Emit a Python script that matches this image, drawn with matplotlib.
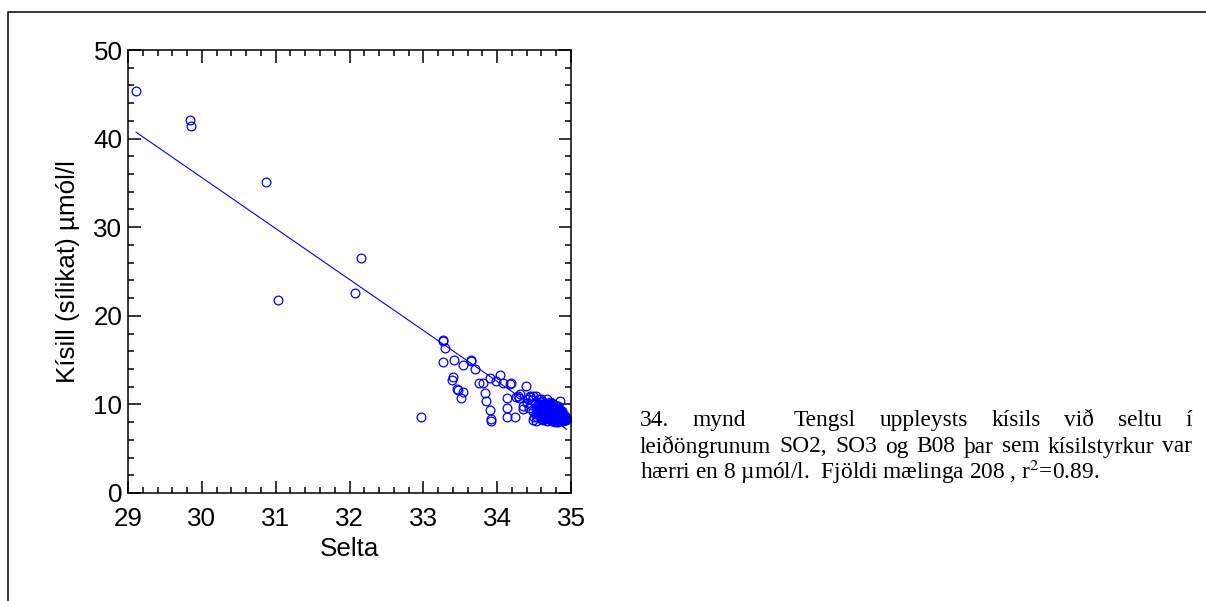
import matplotlib
matplotlib.use("Agg")
import matplotlib.pyplot as plt
from matplotlib.lines import Line2D
from matplotlib.ticker import MultipleLocator
import numpy as np

# salinity (Selta) and silicate (Kísill, µmól/l)
salinity = [
    29.11, 29.84, 29.86, 30.87, 31.03, 32.07, 32.16, 32.97,
    33.26, 33.26, 33.30, 33.27, 33.41, 33.54, 33.64, 33.65, 33.70,
    33.40, 33.39, 33.46, 33.47, 33.54, 33.51, 33.75, 33.81, 33.84,
    33.85, 33.90, 33.92, 33.92, 33.90, 34.04, 33.99, 34.08, 34.17,
    34.19, 34.13, 34.13, 34.13, 34.24, 34.26, 34.39, 34.31, 34.35,
    34.35, 34.49, 34.28, 34.30,
    34.41, 34.43, 34.44, 34.46, 34.47, 34.48, 34.49, 34.50, 34.45, 34.42,
    34.51, 34.52, 34.53, 34.54, 34.55, 34.56, 34.57, 34.58, 34.59, 34.53,
    34.55, 34.58, 34.60,
    34.61, 34.62, 34.63, 34.64, 34.65, 34.66, 34.67, 34.68, 34.69, 34.70,
    34.62, 34.64, 34.66, 34.68, 34.61, 34.65, 34.67, 34.69, 34.63, 34.70,
    34.71, 34.72, 34.73, 34.74, 34.75, 34.76, 34.77, 34.78, 34.79, 34.80,
    34.72, 34.74, 34.76, 34.78, 34.71, 34.73, 34.75, 34.77, 34.79, 34.74,
    34.76, 34.78, 34.72, 34.80,
    34.81, 34.82, 34.83, 34.84, 34.85, 34.86, 34.87, 34.88, 34.89, 34.90,
    34.82, 34.84, 34.86, 34.88, 34.91, 34.93, 34.85, 34.87, 34.83, 34.89,
    34.92, 34.81,
    34.58, 34.60, 34.62, 34.63, 34.64, 34.65, 34.66, 34.67, 34.68, 34.69,
    34.70, 34.71, 34.71, 34.72, 34.73, 34.73, 34.74, 34.75, 34.75, 34.76,
    34.77, 34.77, 34.78, 34.79, 34.79, 34.80, 34.80, 34.81, 34.82, 34.82,
    34.83, 34.83, 34.84, 34.85, 34.85, 34.86, 34.86, 34.87, 34.88, 34.89,
    34.90, 34.91, 34.92, 34.94, 34.60, 34.57, 34.59, 34.56, 34.54, 34.52,
    34.62, 34.66, 34.69, 34.72, 34.76, 34.80, 34.84, 34.88, 34.70, 34.74,
    34.78, 34.82, 34.67, 34.86, 34.90, 34.64, 34.68, 34.75, 34.81, 34.87,
    34.93,
]
silicate = [
    45.4, 42.1, 41.4, 35.1, 21.8, 22.6, 26.5, 8.6,
    17.3, 17.1, 16.4, 14.75, 15.0, 14.45, 15.0, 14.9, 13.95,
    13.05, 12.8, 11.7, 11.6, 11.4, 10.7, 12.45, 12.45, 11.3,
    10.4, 9.35, 8.3, 8.15, 12.95, 13.3, 12.6, 12.45, 12.35,
    12.4, 10.7, 9.6, 8.6, 8.55, 10.8, 12.1, 11.2, 9.8,
    9.5, 8.25, 10.9, 10.7,
    10.2, 9.6, 10.8, 9.9, 10.5, 9.2, 10.9, 8.6, 11.0, 10.6,
    10.3, 9.7, 10.9, 9.3, 10.1, 8.9, 10.6, 9.5, 8.4, 8.1,
    9.0, 10.0, 9.8,
    10.4, 9.1, 8.6, 9.9, 10.2, 8.9, 9.4, 10.6, 8.3, 9.7,
    8.2, 9.5, 10.0, 9.0, 8.8, 8.5, 9.8, 9.2, 10.1, 8.7,
    10.3, 9.0, 8.4, 9.6, 10.0, 8.8, 9.3, 8.2, 9.9, 8.6,
    9.7, 8.1, 9.4, 9.1, 8.6, 9.2, 8.5, 8.9, 8.4, 10.2,
    8.3, 9.6, 8.3, 9.2,
    8.9, 8.3, 9.5, 8.6, 10.4, 8.4, 9.0, 8.2, 8.7, 8.5,
    9.8, 8.1, 9.3, 8.9, 8.3, 8.5, 8.8, 8.3, 8.8, 8.1,
    8.7, 9.4,
    8.7, 9.3, 9.7, 8.9, 8.4, 9.6, 9.2, 8.6, 9.5, 8.8,
    9.3, 9.9, 8.9, 8.7, 9.5, 8.8, 9.0, 9.4, 8.3, 9.1,
    9.6, 8.4, 8.7, 9.3, 8.8, 8.3, 9.0, 8.5, 9.1, 8.6,
    8.4, 9.1, 9.0, 8.5, 9.3, 8.7, 8.2, 8.6, 8.5, 8.4,
    8.8, 8.6, 8.4, 8.3, 10.6, 9.9, 10.3, 9.4, 8.6, 8.9,
    10.1, 9.7, 10.0, 10.1, 9.8, 9.6, 9.5, 9.2, 8.4, 8.5,
    8.0, 8.0, 8.1, 9.0, 8.2, 8.8, 8.6, 9.7, 8.2, 8.9,
    8.2,
]

# regression line
fit_intercept = 208.1
fit_slope = -5.75

caption_1 = "34. mynd  Tengsl uppleysts kísils við seltu í"
caption_2 = "leiðöngrunum SO2, SO3 og B08 þar sem kísilstyrkur var"
caption_3 = "hærri en 8 µmól/l.  Fjöldi mælinga 208 , r$^{2}$=0.89."

plt.rcParams["font.family"] = ["Liberation Sans", "DejaVu Sans"]
plt.rcParams["mathtext.fontset"] = "stix"

fig = plt.figure(figsize=(12.06, 6.01), dpi=100)
ax = fig.add_axes([128 / 1206, 1 - 493 / 601, 443 / 1206, 443 / 601])

blue = "#0000ff"
ax.plot(salinity, silicate, "o", mfc="none", mec=blue, ms=6.3, mew=0.9)
xs = np.array([min(salinity), max(salinity)])
ax.plot(xs, fit_intercept + fit_slope * xs, color=blue, lw=0.8)

ax.set_xlim(29, 35)
ax.set_ylim(0, 50)
ax.xaxis.set_major_locator(MultipleLocator(1))
ax.xaxis.set_minor_locator(MultipleLocator(0.2))
ax.yaxis.set_major_locator(MultipleLocator(10))
ax.yaxis.set_minor_locator(MultipleLocator(2))
ax.tick_params(which="both", direction="in", top=True, right=True, width=1.1,
               labelsize=18.7)
ax.tick_params(which="major", length=9)
ax.tick_params(which="minor", length=4.5)
ax.tick_params(axis="x", which="major", pad=10)
ax.tick_params(axis="y", which="major", pad=4)
for s in ax.spines.values():
    s.set_linewidth(1.1)

ax.set_xlabel("Selta", fontsize=18.7)
ax.set_ylabel("Kísill (sílikat) µmól/l", fontsize=18.7)
ax.xaxis.set_label_coords(0.5, -0.099)
ax.yaxis.set_label_coords(-0.108, 0.5)

# page frame (left and top edge)
fig.add_artist(Line2D([8 / 1206, 8 / 1206, 1.0], [0.0, 1 - 12 / 601, 1 - 12 / 601],
                      transform=fig.transFigure, color="black", lw=1.1))

# caption, first two lines justified
cap_left, cap_right = 640 / 1206, 1192 / 1206
cap_font = dict(family=["Liberation Serif", "DejaVu Serif"], fontsize=16.8)
renderer = fig.canvas.get_renderer()


def justified(line, y):
    tokens = line.split(" ")
    texts = [fig.text(cap_left, y, w, va="baseline", **cap_font) if w else None
             for w in tokens]
    widths = [t.get_window_extent(renderer).width / fig.bbox.width if t else 0
              for t in texts]
    gap = (cap_right - cap_left - sum(widths)) / (len(tokens) - 1)
    x = cap_left
    for t, w in zip(texts, widths):
        if t:
            t.set_x(x)
        x += w + gap


justified(caption_1, 1 - 426 / 601)
justified(caption_2, 1 - 452.5 / 601)
fig.text(cap_left, 1 - 479 / 601, caption_3, va="baseline", **cap_font)

fig.savefig("out.png", dpi=100)
